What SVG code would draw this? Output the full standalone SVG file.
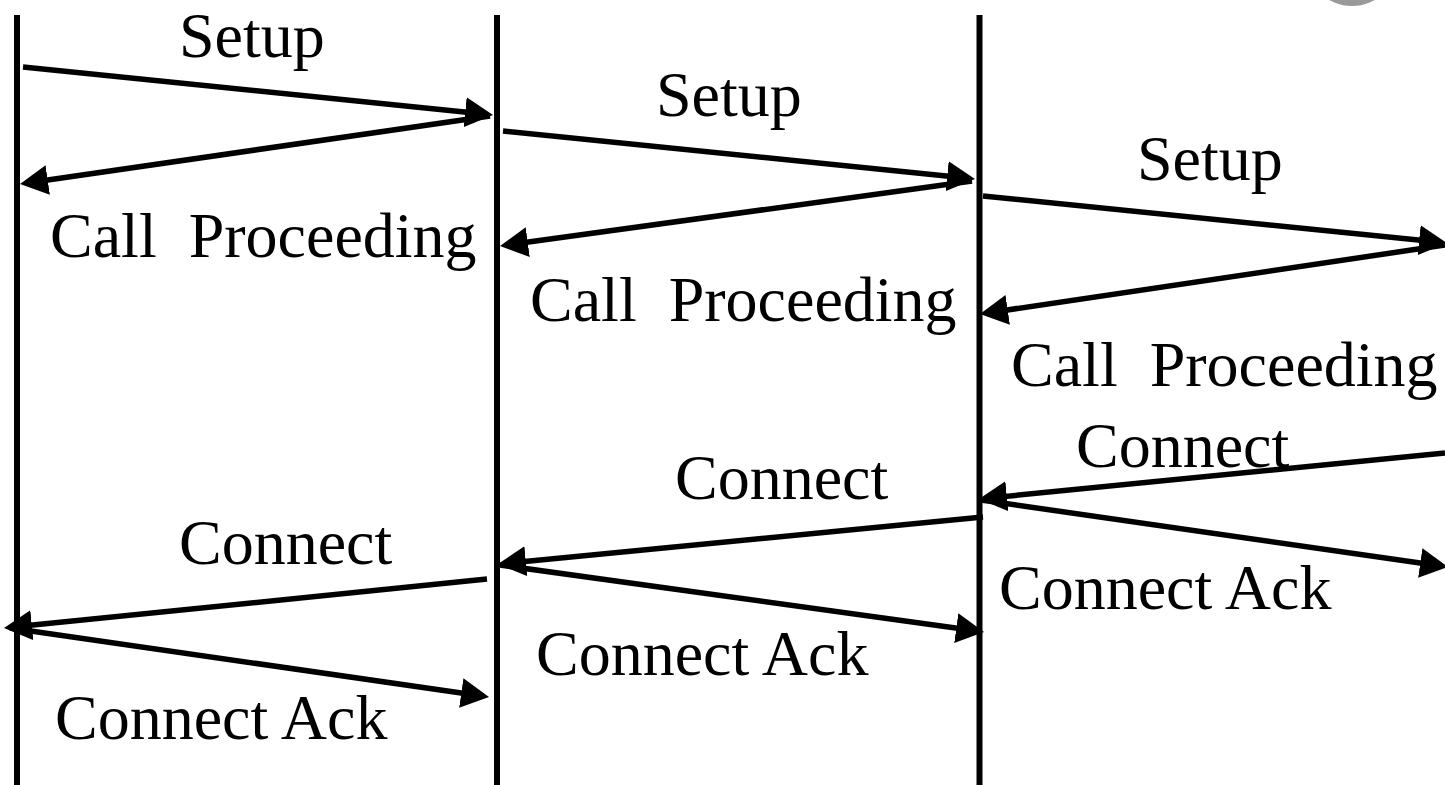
<svg xmlns="http://www.w3.org/2000/svg" width="1445" height="785" viewBox="0 0 1445 785">
<style>
.life{stroke:#000;stroke-width:6;fill:none}
.msg{stroke:#000;stroke-width:5.5;fill:none;marker-end:url(#ah)}
.lbl{font-family:"Liberation Serif","Times New Roman",serif;font-size:64px;fill:#000}
</style>
<defs>
<marker id="ah" viewBox="0 0 28 30" refX="14" refY="15" markerWidth="28" markerHeight="30" markerUnits="userSpaceOnUse" orient="auto">
<path d="M0,0 L28,15 L0,30 Z" fill="#000"/>
</marker>
</defs>
<rect width="1445" height="785" fill="#fff"/>
<circle cx="1352" cy="-40" r="46" fill="#999"/>
<g id="lifelines">
<line id="life1" class="life" x1="17" y1="15" x2="17" y2="785"/>
<line id="life2" class="life" x1="497" y1="15" x2="497" y2="785"/>
<line id="life3" class="life" x1="979.5" y1="15" x2="979.5" y2="785"/>
</g>
<g id="connectors">
<line class="msg" x1="23" y1="67" x2="479.07" y2="113.58"/>
<line class="msg" x1="490" y1="116" x2="33.86" y2="181.99"/>
<line class="msg" x1="503" y1="131" x2="961.07" y2="177.58"/>
<line class="msg" x1="972" y1="181" x2="513.87" y2="244.09"/>
<line class="msg" x1="983" y1="196" x2="1433.07" y2="241.59"/>
<line class="msg" x1="1445" y1="245" x2="993.85" y2="311.95"/>
<line class="msg" x1="1445" y1="453" x2="992.93" y2="497.63"/>
<line class="msg" x1="981" y1="500" x2="1434.14" y2="565.01"/>
<line class="msg" x1="983" y1="517" x2="511.93" y2="562.65"/>
<line class="msg" x1="500" y1="565" x2="970.13" y2="630.08"/>
<line class="msg" x1="487" y1="579" x2="17.93" y2="626.59"/>
<line class="msg" x1="10" y1="628" x2="475.14" y2="695.00"/>
</g>
<g id="labels">
<text class="lbl" x="179" y="57">Setup</text>
<text class="lbl" x="656" y="116">Setup</text>
<text class="lbl" x="1137" y="180">Setup</text>
<text class="lbl" x="50" y="257" xml:space="preserve">Call  Proceeding</text>
<text class="lbl" x="530" y="321" xml:space="preserve">Call  Proceeding</text>
<text class="lbl" x="1011" y="386" xml:space="preserve">Call  Proceeding</text>
<text class="lbl" x="1076" y="467">Connect</text>
<text class="lbl" x="675" y="499">Connect</text>
<text class="lbl" x="179" y="564">Connect</text>
<text class="lbl" x="999" y="609">Connect Ack</text>
<text class="lbl" x="536" y="675">Connect Ack</text>
<text class="lbl" x="55" y="739">Connect Ack</text>
</g>
</svg>
